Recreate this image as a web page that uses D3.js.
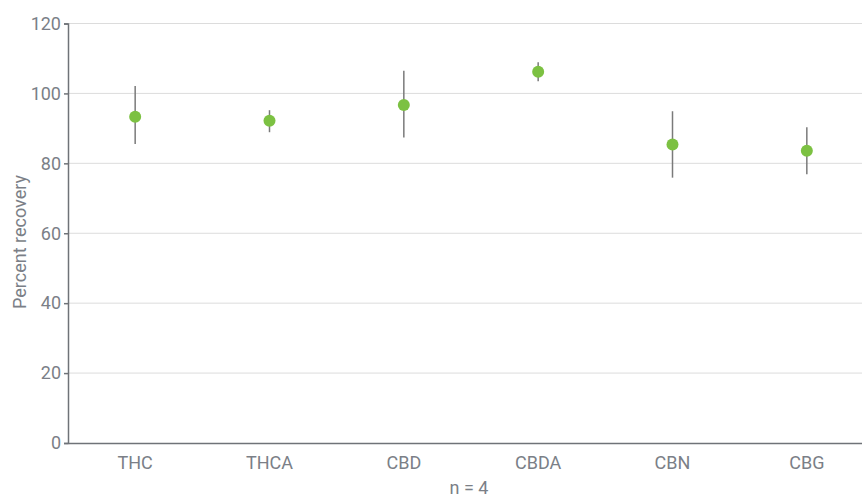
<!DOCTYPE html>
<html>
<head>
<meta charset="utf-8">
<script src="https://cdn.jsdelivr.net/npm/d3@7"></script>
<style>
  html, body { margin: 0; padding: 0; background: #fff; }
  text { font-family: Roboto, "Noto Sans", sans-serif; fill: #7b7f87; }
</style>
</head>
<body>
<svg id="chart" width="862" height="498"></svg>
<script>
// Cannabinoid recovery, mean with low/high range
const analytes = ["THC", "THCA", "CBD", "CBDA", "CBN", "CBG"];
const meanRecovery = [93.3, 92.2, 96.7, 106.2, 85.4, 83.6];
const lowRecovery  = [85.5, 88.9, 87.4, 103.5, 75.9, 76.9];
const highRecovery = [102.1, 95.2, 106.5, 108.9, 94.9, 90.3];
const yTicks = [0, 20, 40, 60, 80, 100, 120];

const svg = d3.select("#chart");
const plotLeft = 68, plotTop = 23.5, plotBottom = 443, plotRight = 874;
const fontSize = 18;

const x = d3.scaleBand().domain(analytes).range([plotLeft, plotRight]);
const y = d3.scaleLinear().domain([0, 120]).range([plotBottom, plotTop]);

// horizontal gridlines
svg.append("g").selectAll("line").data(yTicks.filter(d => d > 0)).join("line")
  .attr("x1", plotLeft).attr("x2", 862)
  .attr("y1", d => y(d)).attr("y2", d => y(d))
  .attr("stroke", "#dcdcdc").attr("stroke-width", 1);

// y axis
const yAxis = svg.append("g").attr("transform", `translate(${plotLeft},0)`)
  .call(d3.axisLeft(y).tickValues(yTicks).tickSize(4).tickPadding(3));
yAxis.select(".domain").attr("stroke", "#6f7378").attr("stroke-width", 1.5);
yAxis.selectAll(".tick line").attr("stroke", "#6f7378").attr("stroke-width", 1.5);
yAxis.selectAll(".tick text").attr("font-size", fontSize).attr("fill", "#7b7f87");

// x axis
const xAxis = svg.append("g").attr("transform", `translate(0,${plotBottom})`)
  .call(d3.axisBottom(x).tickSize(0).tickPadding(13).tickSizeOuter(0));
xAxis.select(".domain").attr("stroke", "#6f7378").attr("stroke-width", 1.5);
xAxis.selectAll(".tick text").attr("font-size", fontSize).attr("fill", "#7b7f87");

// error bars
const cx = d => x(d) + x.bandwidth() / 2;
svg.append("g").selectAll("line").data(analytes).join("line")
  .attr("x1", cx).attr("x2", cx)
  .attr("y1", (d, i) => y(lowRecovery[i]))
  .attr("y2", (d, i) => y(highRecovery[i]))
  .attr("stroke", "#7a7a7a").attr("stroke-width", 1.5);

// mean points
svg.append("g").selectAll("circle").data(analytes).join("circle")
  .attr("cx", cx)
  .attr("cy", (d, i) => y(meanRecovery[i]))
  .attr("r", 6)
  .attr("fill", "#7cc142");

// axis titles
svg.append("text")
  .attr("transform", `translate(26,242) rotate(-90)`)
  .attr("text-anchor", "middle")
  .attr("font-size", fontSize)
  .text("Percent recovery");

svg.append("text")
  .attr("x", 469).attr("y", 494)
  .attr("text-anchor", "middle")
  .attr("font-size", fontSize)
  .text("n = 4");
</script>
</body>
</html>
